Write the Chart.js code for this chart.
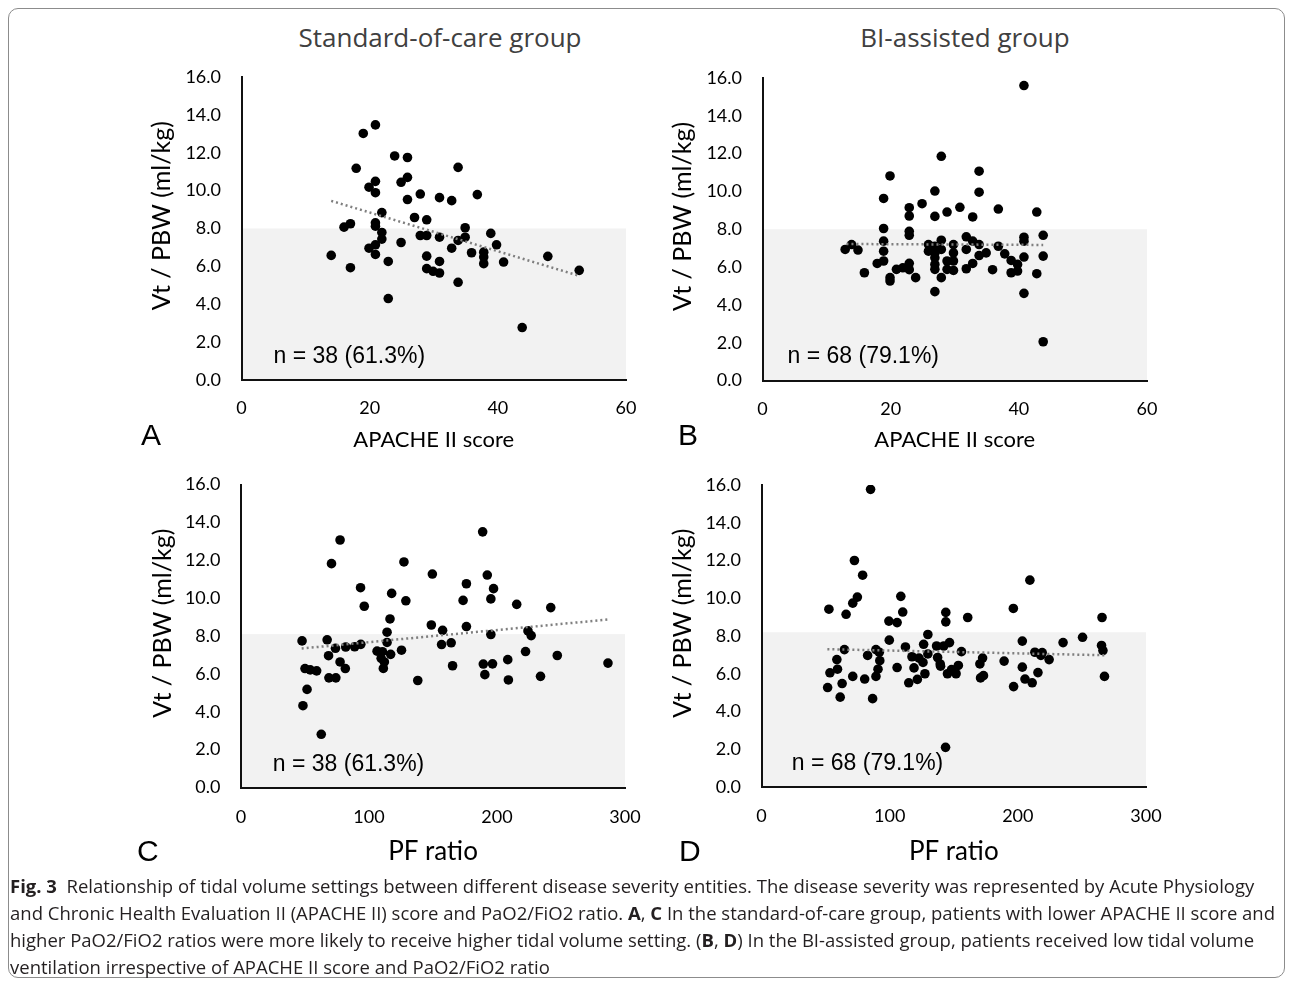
<!DOCTYPE html>
<html>
<head>
<meta charset="utf-8">
<script src="https://cdn.jsdelivr.net/npm/chart.js@4.4.1/dist/chart.umd.min.js"></script>
<style>
  body { margin: 0; background: #fff; }
  #page { position: relative; width: 1292px; height: 983px; overflow: hidden; }
  .frame { position: absolute; left: 8px; top: 8px; width: 1275px; height: 968px; border: 1px solid #8c8c8c; border-radius: 10px; }
  canvas { position: absolute; }
  .group { position: absolute; top: 22px; font: 26px/30px "Open Sans", sans-serif; color: #404040; transform: translateX(-50%); white-space: nowrap; }
  .letter { position: absolute; font: 30px/30px "Liberation Sans", Arial, sans-serif; color: #000; }
  .caption { position: absolute; left: 10px; top: 872px; font: 18.5px/27px "Open Sans", sans-serif; color: #231f20; white-space: nowrap; }
</style>
</head>
<body>
<div id="page">
  <div class="frame"></div>
  <div class="group" style="left:440px">Standard-of-care group</div>
  <div class="group" style="left:965px">BI-assisted group</div>

  <canvas id="chartA" width="560" height="420" style="left:110px; top:40px"></canvas>
  <canvas id="chartB" width="560" height="420" style="left:630px; top:40px"></canvas>
  <canvas id="chartC" width="560" height="436" style="left:110px; top:446px"></canvas>
  <canvas id="chartD" width="560" height="436" style="left:630px; top:446px"></canvas>

  <div class="letter" style="left:141px; top:420px">A</div>
  <div class="letter" style="left:678px; top:420px">B</div>
  <div class="letter" style="left:137px; top:836px">C</div>
  <div class="letter" style="left:679px; top:836px">D</div>

  <div class="caption">
    <b>Fig. 3</b>&nbsp; Relationship of tidal volume settings between different disease severity entities. The disease severity was represented by Acute Physiology<br>
    and Chronic Health Evaluation II (APACHE II) score and PaO2/FiO2 ratio. <b>A</b>, <b>C</b> In the standard-of-care group, patients with lower APACHE II score and<br>
    higher PaO2/FiO2 ratios were more likely to receive higher tidal volume setting. (<b>B</b>, <b>D</b>) In the BI-assisted group, patients received low tidal volume<br>
    ventilation irrespective of APACHE II score and PaO2/FiO2 ratio
  </div>
</div>

<script>
// values: [x, Vt/PBW]
const stdApache = [
  [20.9, 13.47], [19.0, 13.02], [23.9, 11.83], [25.9, 11.75], [17.9, 11.18], [33.8, 11.23],
  [20.9, 10.49], [25.9, 10.7], [24.9, 10.44], [19.9, 10.18], [20.9, 9.89], [27.9, 9.82],
  [30.9, 9.63], [32.8, 9.47], [36.8, 9.79], [25.9, 9.53], [21.9, 8.84], [27.0, 8.58],
  [28.9, 8.46], [17.0, 8.25], [16.0, 8.07], [20.9, 8.3], [20.9, 8.12], [21.9, 7.79],
  [21.9, 7.44], [20.9, 7.14], [19.9, 6.96], [20.9, 6.63], [24.9, 7.26], [27.9, 7.63],
  [28.9, 7.63], [30.9, 7.54], [34.9, 8.04], [34.9, 7.54], [33.8, 7.37], [32.8, 6.96],
  [38.9, 7.74], [39.8, 7.14], [35.9, 6.72], [37.8, 6.75], [37.8, 6.49], [37.8, 6.14],
  [40.9, 6.23], [47.8, 6.53], [52.7, 5.79], [14.0, 6.58], [17.0, 5.93], [22.9, 6.26],
  [28.9, 6.54], [28.9, 5.88], [29.9, 5.74], [30.9, 5.65], [30.9, 6.26], [33.8, 5.16],
  [22.9, 4.3], [43.8, 2.77]
];
const biApache = [
  [40.8, 15.6], [27.9, 11.86], [33.8, 11.07], [19.9, 10.82], [26.9, 10.02], [33.8, 9.96],
  [18.9, 9.63], [24.9, 9.35], [22.9, 9.14], [22.9, 8.7], [26.9, 8.68], [28.8, 8.91],
  [30.8, 9.16], [32.8, 8.65], [36.8, 9.07], [42.8, 8.91], [18.9, 8.04], [22.9, 7.89],
  [22.9, 7.68], [18.9, 7.37], [18.9, 6.84], [18.9, 6.32], [17.9, 6.19], [13.9, 7.19],
  [12.9, 6.93], [14.9, 6.9], [15.9, 5.7], [19.9, 5.44], [19.9, 5.26], [20.9, 5.88],
  [21.9, 5.96], [22.9, 6.2], [22.9, 5.86], [23.9, 5.44], [25.9, 7.19], [25.9, 6.84],
  [26.9, 7.1], [26.9, 6.75], [26.9, 6.49], [26.9, 6.14], [26.9, 5.88], [27.9, 7.42],
  [27.9, 6.93], [27.9, 5.44], [26.9, 4.7], [28.8, 6.32], [28.8, 5.88], [29.8, 7.19],
  [29.8, 6.75], [29.8, 6.32], [29.8, 5.82], [31.8, 7.6], [31.8, 6.93], [31.8, 5.91],
  [32.8, 7.37], [32.8, 6.19], [33.8, 7.19], [33.8, 6.61], [34.9, 6.75], [35.9, 5.86],
  [36.8, 7.1], [37.8, 6.7], [38.8, 6.35], [38.8, 5.7], [39.8, 6.14], [39.8, 5.79],
  [40.8, 7.58], [40.8, 7.37], [40.8, 6.53], [40.8, 4.61], [42.8, 5.65], [43.8, 7.68],
  [43.8, 6.58], [43.8, 2.05]
];
const stdPf = [
  [188.8, 13.5], [77.4, 13.07], [70.7, 11.82], [127.3, 11.91], [149.5, 11.27], [192.4, 11.22],
  [176.1, 10.76], [197.3, 10.5], [93.4, 10.55], [117.7, 10.25], [96.3, 9.57], [128.8, 9.86],
  [173.5, 9.88], [195.2, 9.96], [215.4, 9.67], [242.0, 9.5], [116.4, 8.9], [114.1, 8.2],
  [148.7, 8.58], [157.5, 8.3], [176.1, 8.5], [195.2, 8.08], [224.2, 8.27], [226.7, 8.02],
  [47.7, 7.74], [67.3, 7.8], [73.8, 7.35], [81.8, 7.42], [88.8, 7.43], [93.6, 7.56],
  [114.1, 7.66], [106.3, 7.2], [110.5, 7.17], [116.9, 7.03], [125.4, 7.25], [156.7, 7.55],
  [164.2, 7.64], [68.4, 6.96], [77.4, 6.63], [81.5, 6.28], [109.5, 6.82], [112.0, 6.63],
  [111.2, 6.29], [50.0, 6.28], [54.1, 6.21], [59.1, 6.16], [68.7, 5.79], [74.1, 5.79],
  [51.6, 5.18], [48.4, 4.32], [62.7, 2.81], [138.1, 5.65], [165.3, 6.43], [189.3, 6.52],
  [196.5, 6.53], [190.5, 5.96], [208.4, 6.75], [208.9, 5.68], [222.3, 7.18], [234.0, 5.87],
  [247.1, 6.97], [286.7, 6.57]
];
const biPf = [
  [85.1, 15.77], [72.5, 12.0], [78.9, 11.22], [209.4, 10.96], [74.8, 10.06], [71.2, 9.74],
  [108.7, 10.1], [52.6, 9.42], [66.0, 9.15], [110.2, 9.27], [99.4, 8.79], [105.8, 8.71],
  [143.8, 9.25], [143.8, 8.75], [160.9, 8.98], [196.5, 9.46], [265.7, 8.98], [99.7, 7.78],
  [129.8, 8.08], [126.5, 7.56], [112.3, 7.42], [136.6, 7.47], [142.2, 7.47], [146.7, 7.65],
  [64.7, 7.28], [89.3, 7.28], [91.9, 7.14], [82.8, 6.97], [58.8, 6.75], [92.3, 6.69],
  [117.4, 6.9], [122.9, 6.83], [129.8, 7.05], [126.0, 6.6], [137.4, 6.86], [139.4, 6.52],
  [156.0, 7.17], [172.5, 6.83], [170.4, 6.52], [189.3, 6.67], [203.5, 7.73], [213.3, 7.14],
  [219.0, 7.12], [218.0, 6.97], [224.4, 6.75], [235.3, 7.65], [250.5, 7.93], [265.3, 7.5],
  [266.4, 7.23], [267.6, 5.86], [53.4, 6.05], [59.3, 6.24], [51.6, 5.27], [62.9, 5.48],
  [61.4, 4.76], [71.2, 5.86], [80.5, 5.72], [86.7, 4.68], [89.3, 5.86], [90.9, 6.24],
  [105.8, 6.33], [114.9, 5.52], [121.6, 5.7], [119.0, 6.31], [127.5, 6.0], [139.7, 6.4],
  [145.1, 6.0], [151.8, 6.0], [153.6, 6.44], [148.3, 6.22], [170.9, 5.78], [173.2, 5.9],
  [196.7, 5.32], [203.5, 6.35], [205.6, 5.72], [211.2, 5.52], [215.7, 6.06], [143.6, 2.1]
];

// dotted linear trendlines, end points
const stdApacheTrend = [[14, 9.46], [52.8, 5.49]];
const biApacheTrend = [[13.1, 7.22], [43.8, 7.17]];
const stdPfTrend = [[47.4, 7.34], [288.3, 8.88]];
const biPfTrend = [[51.4, 7.3], [268.4, 6.98]];

// shaded low tidal volume zone (top value) and the n labels
const bandTops = [8.0, 8.0, 8.1, 8.2];
const nLabels = ['n = 38 (61.3%)', 'n = 68 (79.1%)', 'n = 38 (61.3%)', 'n = 68 (79.1%)'];
const nLabelX = [5.0, 3.9, 24.8, 23.6];
const nLabelY = [1.22, 1.26, 1.2, 1.24];

// leading spaces lift the rotated title a little above the axis middle, as in the figure
const yTitle = '    Vt / PBW (ml/kg)';
const yTicks = { min: 0, max: 16, step: 2 };

Chart.defaults.font.family = 'Lato, sans-serif';
Chart.defaults.color = '#000';

// grey band + "n = .." text, drawn under the points
const bandPlugin = {
  id: 'band',
  beforeDatasetsDraw(chart, args, opts) {
    const { ctx, chartArea, scales: { x, y } } = chart;
    const top = y.getPixelForValue(opts.top);
    const bottom = y.getPixelForValue(0);
    ctx.save();
    ctx.fillStyle = '#f2f2f2';
    ctx.fillRect(chartArea.left, top, chartArea.right - chartArea.left, bottom - top);
    ctx.fillStyle = '#000';
    ctx.font = '23px "Liberation Sans", Arial, sans-serif';
    ctx.textBaseline = 'middle';
    ctx.textAlign = 'left';
    ctx.fillText(opts.label, x.getPixelForValue(opts.labelX), y.getPixelForValue(opts.labelY));
    ctx.restore();
  }
};

function toXY(list) {
  return list.map(p => ({ x: p[0], y: p[1] }));
}

function createPanel(canvasId, idx, cfg) {
  const ctx = document.getElementById(canvasId).getContext('2d');
  const axisBorder = { display: true, color: '#111', width: 2, z: 1 };

  new Chart(ctx, {
    type: 'scatter',
    data: {
      datasets: [
        {
          data: toXY(cfg.trend),
          showLine: true,
          borderColor: '#7f7f7f',
          borderWidth: 2.5,
          borderDash: [2, 3],
          pointRadius: 0,
          order: 0
        },
        {
          data: toXY(cfg.points),
          pointRadius: 4.8,
          pointBackgroundColor: '#000',
          pointBorderWidth: 0,
          order: 1
        }
      ]
    },
    plugins: [bandPlugin],
    options: {
      responsive: false,
      animation: false,
      events: [],
      layout: { padding: cfg.pad },
      plugins: {
        legend: { display: false },
        tooltip: { enabled: false },
        band: {
          top: bandTops[idx],
          label: nLabels[idx],
          labelX: nLabelX[idx],
          labelY: nLabelY[idx]
        }
      },
      scales: {
        x: {
          type: 'linear',
          min: 0,
          max: cfg.xMax,
          afterFit: s => { s.height = cfg.xHeight; },
          ticks: { stepSize: cfg.xStep, padding: cfg.xTickPad, font: { size: 18 }, maxRotation: 0, autoSkip: false },
          grid: { display: false, drawTicks: false },
          border: axisBorder,
          title: {
            display: true,
            text: cfg.xTitle,
            font: { size: cfg.xTitleSize },
            padding: { top: 0, bottom: cfg.xTitlePad }
          }
        },
        y: {
          min: yTicks.min,
          max: yTicks.max,
          afterFit: s => { s.width = cfg.yWidth; },
          ticks: { stepSize: yTicks.step, padding: 20.5, font: { size: 18 }, callback: v => v.toFixed(1) },
          grid: { display: false, drawTicks: false },
          border: axisBorder,
          title: {
            display: true,
            text: yTitle,
            font: { size: 25 },
            padding: { top: cfg.yTitlePad, bottom: 0 }
          }
        }
      }
    }
  });
}

// canvas padding is kept larger than the tick label overhang so the plot box lands where intended
createPanel('chartA', 0, {
  points: stdApache, trend: stdApacheTrend, xMax: 60, xStep: 20,
  xTitle: 'APACHE II score', xTitleSize: 22, xTitlePad: 6.8, xTickPad: 17.5,
  pad: { left: 0, top: 37, right: 44, bottom: 0 }, yWidth: 131.5, xHeight: 80, yTitlePad: 37
});
createPanel('chartB', 1, {
  points: biApache, trend: biApacheTrend, xMax: 60, xStep: 20,
  xTitle: 'APACHE II score', xTitleSize: 22, xTitlePad: 6.8, xTickPad: 17.5,
  pad: { left: 0, top: 38, right: 43, bottom: 0 }, yWidth: 132.5, xHeight: 79.5, yTitlePad: 38
});
createPanel('chartC', 2, {
  points: stdPf, trend: stdPfTrend, xMax: 300, xStep: 100,
  xTitle: 'PF ratio', xTitleSize: 26, xTitlePad: 14.4, xTickPad: 18.4,
  pad: { left: 0, top: 38.5, right: 45, bottom: 0 }, yWidth: 131, xHeight: 94.5, yTitlePad: 38
});
createPanel('chartD', 3, {
  points: biPf, trend: biPfTrend, xMax: 300, xStep: 100,
  xTitle: 'PF ratio', xTitleSize: 26, xTitlePad: 14.4, xTickPad: 18.4,
  pad: { left: 0, top: 39, right: 44, bottom: 0 }, yWidth: 131.5, xHeight: 95, yTitlePad: 38
});
</script>
</body>
</html>
